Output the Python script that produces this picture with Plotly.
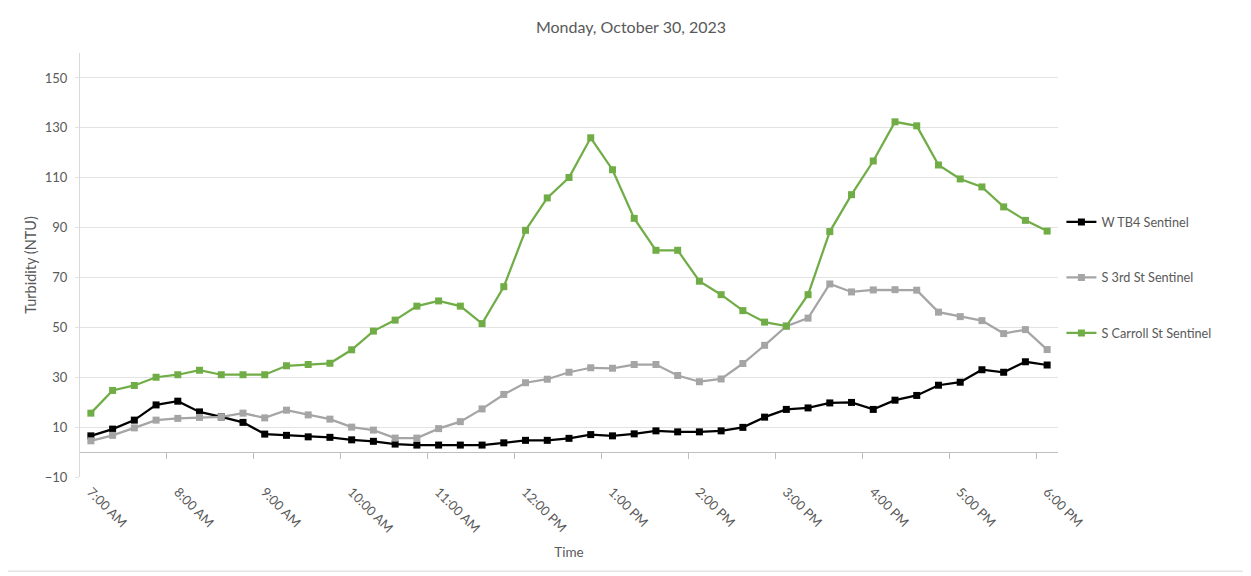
import plotly.graph_objects as go

times = ["7:00 AM", "7:15 AM", "7:30 AM", "7:45 AM", "8:00 AM", "8:15 AM", "8:30 AM", "8:45 AM",
         "9:00 AM", "9:15 AM", "9:30 AM", "9:45 AM", "10:00 AM", "10:15 AM", "10:30 AM", "10:45 AM",
         "11:00 AM", "11:15 AM", "11:30 AM", "11:45 AM", "12:00 PM", "12:15 PM", "12:30 PM", "12:45 PM",
         "1:00 PM", "1:15 PM", "1:30 PM", "1:45 PM", "2:00 PM", "2:15 PM", "2:30 PM", "2:45 PM",
         "3:00 PM", "3:15 PM", "3:30 PM", "3:45 PM", "4:00 PM", "4:15 PM", "4:30 PM", "4:45 PM",
         "5:00 PM", "5:15 PM", "5:30 PM", "5:45 PM", "6:00 PM"]

hour_labels = ["7:00 AM", "8:00 AM", "9:00 AM", "10:00 AM", "11:00 AM", "12:00 PM",
               "1:00 PM", "2:00 PM", "3:00 PM", "4:00 PM", "5:00 PM", "6:00 PM"]

w_tb4 = [6.5, 9.2, 12.8, 18.9, 20.4, 16.1, 14.1, 11.9, 7.2, 6.7, 6.1, 5.9, 4.9, 4.3, 3.2, 2.8,
         2.8, 2.8, 2.8, 3.7, 4.7, 4.7, 5.5, 7.0, 6.5, 7.3, 8.5, 8.1, 8.1, 8.5, 9.9, 14.0,
         17.1, 17.7, 19.7, 19.9, 17.1, 20.8, 22.7, 26.8, 28.0, 33.0, 32.0, 36.2, 34.9]

s_3rd = [4.5, 6.7, 9.7, 12.8, 13.5, 13.9, 14.1, 15.6, 13.7, 16.8, 14.9, 13.2, 10.0, 8.8, 5.6, 5.6,
         9.4, 12.2, 17.3, 23.1, 27.8, 29.2, 32.0, 33.8, 33.6, 35.1, 35.1, 30.7, 28.2, 29.3, 35.5, 42.8,
         50.5, 53.7, 67.4, 64.2, 65.0, 65.1, 64.9, 56.1, 54.3, 52.7, 47.5, 49.1, 41.1]

s_carroll = [15.6, 24.7, 26.7, 30.0, 31.0, 32.8, 31.0, 31.0, 31.0, 34.6, 35.1, 35.6, 41.0, 48.5, 52.9, 58.5,
             60.6, 58.5, 51.5, 66.3, 88.9, 101.9, 110.1, 126.0, 113.2, 93.7, 80.9, 80.9, 68.5, 63.1, 56.7, 52.1,
             50.5, 63.1, 88.4, 103.2, 116.7, 132.4, 130.8, 115.1, 109.5, 106.3, 98.3, 92.9, 88.6]

series_names = ["W TB4 Sentinel", "S 3rd St Sentinel", "S Carroll St Sentinel"]
series_colors = ["#000000", "#A5A5A5", "#70AD47"]

FONT = "Lato, 'Open Sans', sans-serif"
TXT = "#595959"
GRID = "#E3E3E3"
Y_MIN, Y_MAX = -10, 160

fig = go.Figure()
for name, vals, col in zip(series_names, [w_tb4, s_3rd, s_carroll], series_colors):
    fig.add_trace(go.Scatter(
        x=times, y=vals, name=name, mode="lines+markers",
        line=dict(color=col, width=2.25),
        marker=dict(symbol="square", size=7, color=col),
        legendgroup=name,
    ))

# helper axis for the category axis line drawn at y = 0 with tick marks between categories
fig.add_trace(go.Scatter(x=[], y=[], xaxis="x2", showlegend=False, hoverinfo="skip"))

n = len(times)
fig.update_layout(
    width=1251, height=576,
    paper_bgcolor="white", plot_bgcolor="white",
    font=dict(family=FONT, size=13, color=TXT),
    margin=dict(l=72, r=201, t=45, b=107),
    title=dict(text="Monday, October 30, 2023", x=0.498, xanchor="center",
               y=0.967, yanchor="middle", font=dict(size=16, color=TXT)),
    xaxis=dict(
        type="category", range=[-0.5, n - 0.5],
        tickmode="array", tickvals=times[::4], ticktext=hour_labels,
        tickangle=45, ticks="", showgrid=False, showline=False, zeroline=False,
        tickfont=dict(size=13, color=TXT), ticklabelstandoff=4,
        title=dict(text="Time", standoff=12, font=dict(size=13.5, color=TXT)),
    ),
    xaxis2=dict(
        overlaying="x", anchor="free", position=(0 - Y_MIN) / (Y_MAX - Y_MIN),
        range=[-0.5, n - 0.5], showgrid=False, zeroline=False,
        showline=True, linecolor="#BFBFBF", linewidth=1,
        tickmode="array", tickvals=[i + 3.5 for i in range(0, n - 1, 4)],
        ticks="outside", ticklen=6, tickcolor="#BFBFBF", showticklabels=False,
    ),
    yaxis=dict(
        range=[Y_MIN, Y_MAX], tick0=-10, dtick=20, showgrid=True, gridcolor=GRID, gridwidth=1,
        zeroline=False, showline=True, linecolor="#D9D9D9", linewidth=1,
        ticks="outside", ticklen=4, tickcolor=GRID, ticklabelstandoff=5,
        tickfont=dict(size=13, color=TXT),
        title=dict(text="Turbidity (NTU)", standoff=4, font=dict(size=14.5, color=TXT)),
    ),
    legend=dict(x=1.0035, xanchor="left", y=0.47, yanchor="middle",
                font=dict(size=12.7, color=TXT), tracegroupgap=36, bgcolor="rgba(0,0,0,0)"),
    showlegend=True,
    shapes=[dict(type="rect", xref="paper", yref="paper",
                 x0=-0.075, x1=1.19, y0=-0.222, y1=1.113,
                 line=dict(color="#D9D9D9", width=1), fillcolor="rgba(0,0,0,0)", layer="below")],
)

fig.write_html("out.html")
